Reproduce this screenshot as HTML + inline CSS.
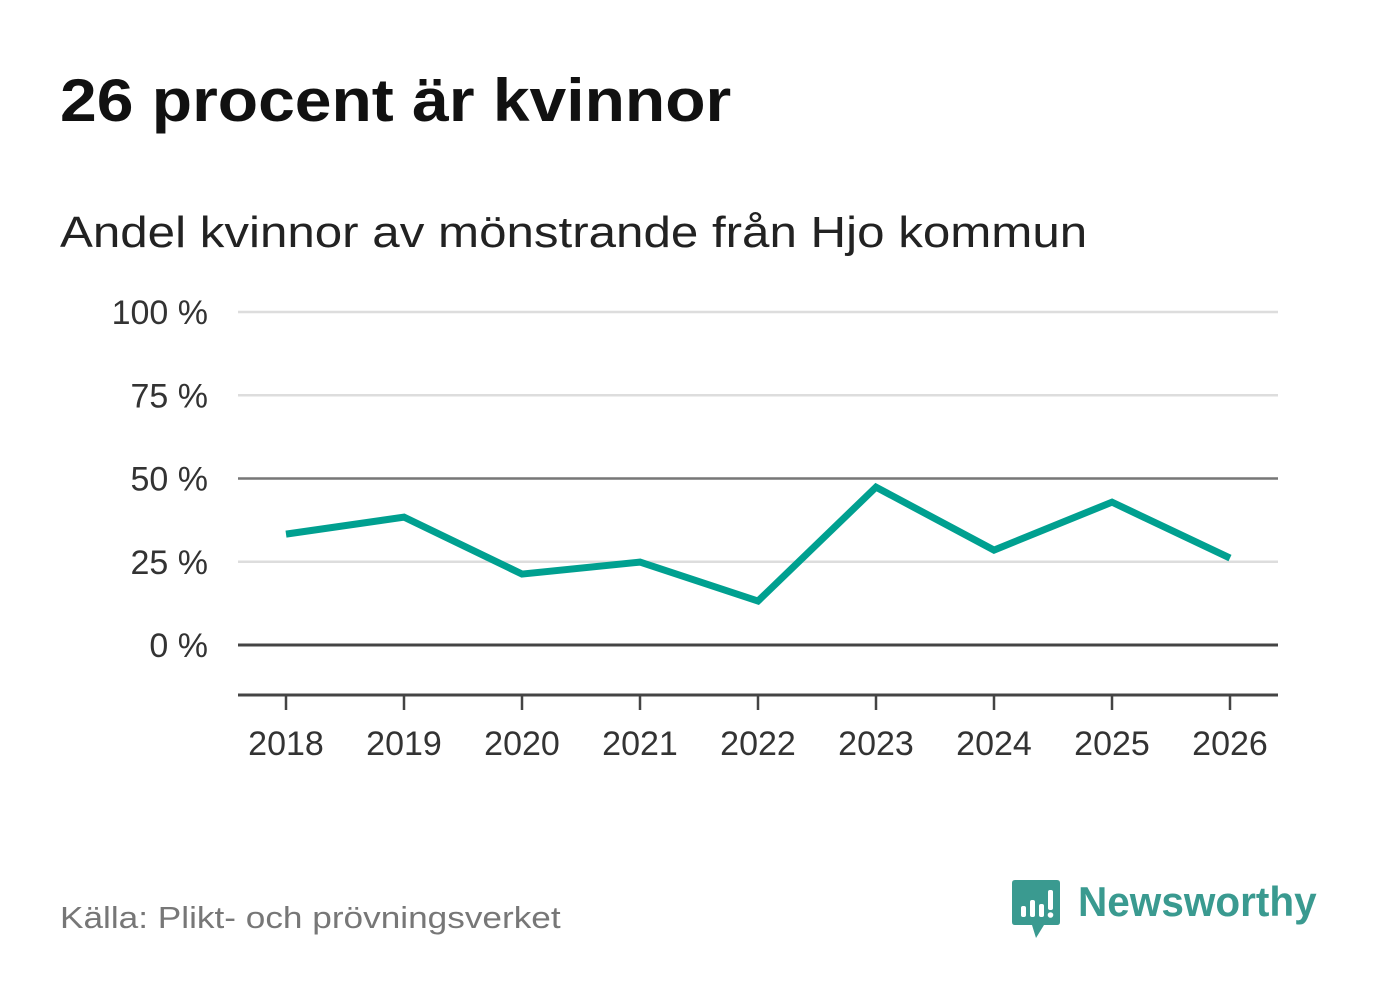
<!DOCTYPE html>
<html><head><meta charset="utf-8">
<style>
body{margin:0;width:1382px;height:999px;background:#fff;font-family:"Liberation Sans","DejaVu Sans",sans-serif;position:relative;overflow:hidden}
.t{position:absolute;white-space:nowrap;transform-origin:0 0}
</style></head><body>
<div class="t" style="left:60px;top:66px;font-size:60px;font-weight:bold;color:#111;transform:scaleX(1.10)">26 procent är kvinnor</div>
<div class="t" style="left:60px;top:208px;font-size:44px;color:#222;transform:scaleX(1.12)">Andel kvinnor av mönstrande från Hjo kommun</div>
<svg id="chart" width="1382" height="999" style="position:absolute;left:0;top:0"></svg>
<div class="t" style="left:60px;top:900px;font-size:31px;color:#777;transform:scaleX(1.135)">Källa: Plikt- och prövningsverket</div>
<div style="position:absolute;left:1012px;top:880px">
<svg width="50" height="60"><path d="M3 0H45Q48 0 48 3V42Q48 45 45 45H32L24 58L20 45H3Q0 45 0 42V3Q0 0 3 0Z" fill="#3a9a90"/><rect x="9" y="26" width="5" height="11" rx="2" fill="#fff"/><rect x="18" y="20" width="5" height="17" rx="2" fill="#fff"/><rect x="27" y="24" width="5" height="13" rx="2" fill="#fff"/><rect x="36" y="10" width="5" height="20" rx="2" fill="#fff"/><circle cx="38.5" cy="35" r="2.8" fill="#fff"/></svg>
<div class="t" style="left:66px;top:-2px;font-size:42px;font-weight:bold;color:#3a9a90;transform:scaleX(0.965)">Newsworthy</div>
</div>
<script>
const years=["2018","2019","2020","2021","2022","2023","2024","2025","2026"];
const values=[33.3,38.4,21.3,24.9,13.2,47.4,28.5,42.9,26.1];
const yTicks=[0,25,50,75,100];
const yTickLabels=["0 %","25 %","50 %","75 %","100 %"];
const svg=document.getElementById('chart');
const NS="http://www.w3.org/2000/svg";
const x=i=>286+i*118;
const y=v=>645-v*3.33;
function mk(t,a){const e=document.createElementNS(NS,t);for(const k in a)e.setAttribute(k,a[k]);svg.appendChild(e);return e;}
yTicks.forEach((v,i)=>{
 const c=v===0?"#444":v===50?"#777":"#ddd";
 const l=mk('line',{x1:238,x2:1278,y1:y(v),y2:y(v),stroke:c,'stroke-width':v===0?3:2.5});
 
 
 const t=mk('text',{x:208,y:y(v)+12,'text-anchor':'end','font-size':34,fill:'#333','font-family':'Liberation Sans, sans-serif'});
 t.textContent=yTickLabels[i];
 
 
});
const ax=mk('line',{x1:238,x2:1278,y1:695,y2:695,stroke:'#444','stroke-width':3});


years.forEach((yr,i)=>{
 const tk=mk('line',{x1:x(i),x2:x(i),y1:695,y2:710,stroke:'#444','stroke-width':2.5});
 
 
 const t=mk('text',{x:x(i),y:755,'text-anchor':'middle','font-size':34,fill:'#333','font-family':'Liberation Sans, sans-serif'});
 t.textContent=yr;
 
 
});
const p=mk('polyline',{points:values.map((v,i)=>x(i)+','+y(v)).join(' '),fill:'none',stroke:'#00a090','stroke-width':7,'stroke-linejoin':'miter'});


</script>
</body></html>
